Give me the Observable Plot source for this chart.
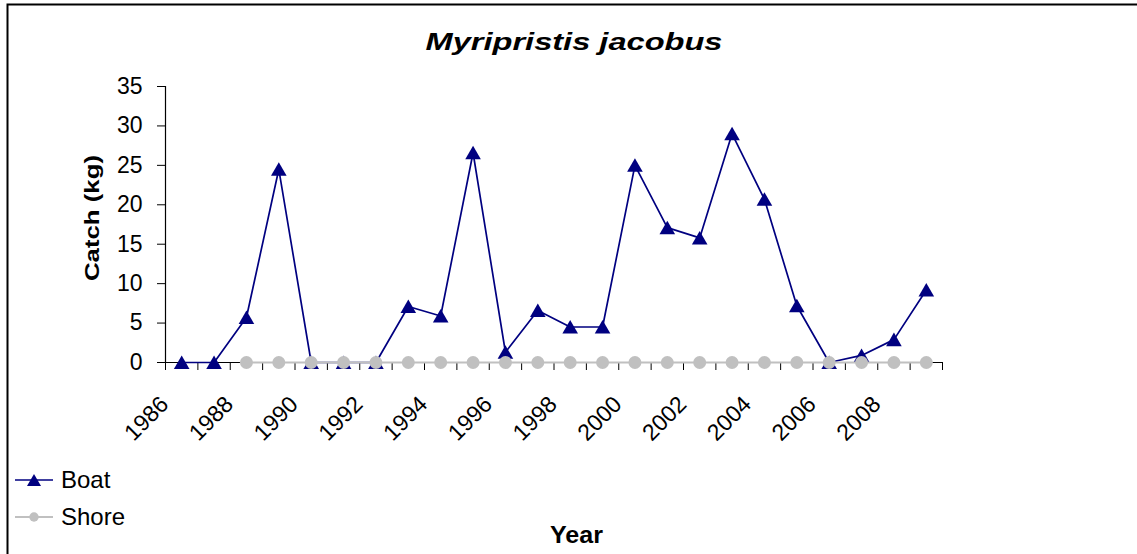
<!DOCTYPE html>
<html>
<head>
<meta charset="utf-8">
<script src="https://cdn.jsdelivr.net/npm/d3@7"></script>
<script src="https://cdn.jsdelivr.net/npm/@observablehq/plot@0.6"></script>
<style>
  html, body { margin: 0; padding: 0; background: #fff; overflow: hidden; }
  #chart svg { overflow: hidden; display: block; }
</style>
</head>
<body>
<div id="chart"></div>
<script>
// ---- data ----
const years = [1986, 1987, 1988, 1989, 1990, 1991, 1992, 1993, 1994, 1995, 1996, 1997,
               1998, 1999, 2000, 2001, 2002, 2003, 2004, 2005, 2006, 2007, 2008, 2009];
const boat  = [0, 0, 5.7, 24.5, 0, 0, 0, 7.1, 5.9, 26.6, 1.3, 6.6,
               4.5, 4.5, 25.0, 17.1, 15.8, 29.0, 20.7, 7.2, 0, 0.9, 2.9, 9.2];
const shore = [null, null, 0, 0, 0, 0, 0, 0, 0, 0, 0, 0,
               0, 0, 0, 0, 0, 0, 0, 0, 0, 0, 0, 0];
const yTicks = [0, 5, 10, 15, 20, 25, 30, 35];
const xTickLabels = ["1986", "1988", "1990", "1992", "1994", "1996", "1998",
                     "2000", "2002", "2004", "2006", "2008"];
const seriesNames = ["Boat", "Shore"];
const chartTitle = "Myripristis jacobus";
const xTitle = "Year";
const yTitle = "Catch (kg)";

// ---- style ----
const FONT = "'Liberation Sans', Arial, Helvetica, sans-serif";
const BOAT_COLOR = "#000080";
const SHORE_COLOR = "#C0C0C0";

const rows = years.map((yr, i) => ({year: yr, boat: boat[i], shore: shore[i]}));
const shoreRows = rows.filter(d => d.shore != null);
const boundaries = years.concat([years[years.length - 1] + 1]);
const mid = d => d.year + 0.5;

const plot = Plot.plot({
  width: 1137,
  height: 554,
  marginLeft: 165,
  marginRight: 195,
  marginTop: 86,
  marginBottom: 192,
  style: {fontFamily: FONT, fontSize: "23px", color: "#000", background: "#fff"},
  x: {type: "linear", domain: [boundaries[0], boundaries[boundaries.length - 1]],
      ticks: boundaries, tickFormat: () => "", tickSize: 8, label: null},
  y: {domain: [0, 35], ticks: yTicks, tickSize: 8, tickPadding: 15, label: null},
  marks: [
    Plot.ruleX([boundaries[0]], {stroke: "#000", strokeWidth: 1.2}),
    Plot.ruleY([0], {stroke: "#000", strokeWidth: 1.2}),
    Plot.line(rows, {x: mid, y: "boat", stroke: BOAT_COLOR, strokeWidth: 1.7}),
    Plot.dot(rows, {x: mid, y: "boat", symbol: "triangle", r: 5.8, fill: BOAT_COLOR, stroke: "none", dy: 2}),
    Plot.line(shoreRows, {x: mid, y: "shore", stroke: SHORE_COLOR, strokeWidth: 2.2}),
    Plot.dot(shoreRows, {x: mid, y: "shore", r: 6.5, fill: SHORE_COLOR, stroke: "none"}),
    Plot.text(xTickLabels, {x: d => +d + 0.5, y: () => 0, text: d => d, rotate: -45,
      textAnchor: "end", fontSize: 23, fill: "#000", dx: -17, dy: 38})
  ]
});

document.getElementById("chart").appendChild(plot);

// ---- titles, legend, border (non-data decorations) ----
const svg = d3.select(plot);

svg.append("rect")
  .attr("x", 7.5).attr("y", 4.5)
  .attr("width", 1140).attr("height", 560)
  .attr("fill", "none").attr("stroke", "#000").attr("stroke-width", 2);

svg.append("text")
  .attr("x", 574).attr("y", 50)
  .attr("text-anchor", "middle")
  .attr("font-family", FONT).attr("font-size", 24)
  .attr("font-weight", "bold").attr("font-style", "italic")
  .attr("textLength", 297).attr("lengthAdjust", "spacingAndGlyphs")
  .attr("fill", "#000")
  .text(chartTitle);

svg.append("text")
  .attr("x", 576.5).attr("y", 543)
  .attr("text-anchor", "middle")
  .attr("font-family", FONT).attr("font-size", 23)
  .attr("font-weight", "bold")
  .attr("textLength", 53).attr("lengthAdjust", "spacingAndGlyphs")
  .attr("fill", "#000")
  .text(xTitle);

svg.append("text")
  .attr("transform", "translate(99,218) rotate(-90)")
  .attr("text-anchor", "middle")
  .attr("font-family", FONT).attr("font-size", 21)
  .attr("font-weight", "bold")
  .attr("textLength", 126).attr("lengthAdjust", "spacingAndGlyphs")
  .attr("fill", "#000")
  .text(yTitle);

const legend = svg.append("g");
const legendRows = [
  {name: seriesNames[0], y: 480, color: BOAT_COLOR, width: 1.7, symbol: d3.symbolTriangle, size: 85, dy: 2},
  {name: seriesNames[1], y: 517, color: SHORE_COLOR, width: 2.2, symbol: d3.symbolCircle, size: 70, dy: 0}
];
legendRows.forEach(r => {
  legend.append("line").attr("x1", 15).attr("x2", 53).attr("y1", r.y).attr("y2", r.y)
    .attr("stroke", r.color).attr("stroke-width", r.width);
  legend.append("path").attr("d", d3.symbol(r.symbol, r.size)())
    .attr("transform", `translate(34,${r.y + r.dy})`).attr("fill", r.color);
  legend.append("text").attr("x", 61).attr("y", r.y).attr("dy", "0.35em")
    .attr("text-anchor", "start")
    .attr("font-family", FONT).attr("font-size", 24).attr("fill", "#000")
    .text(r.name);
});
</script>
</body>
</html>
